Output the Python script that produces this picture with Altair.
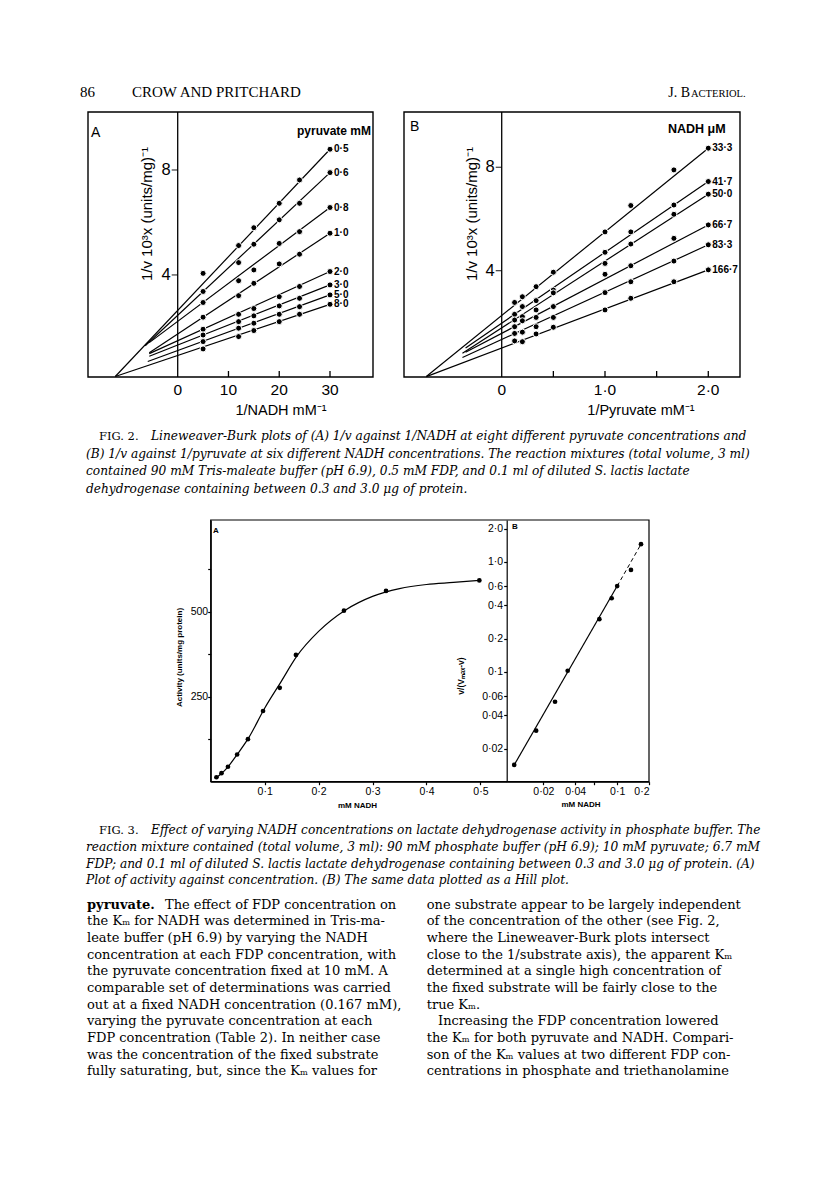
import altair as alt
import pandas as pd

W, H = 800, 1178

# ---------------- data: Fig. 2A (1/v vs 1/NADH) ----------------
A_x = [5, 12, 15, 20, 24, 30]
A_series = ["0·5", "0·6", "0·8", "1·0", "2·0", "3·0", "5·0", "8·0"]
A_y = [
    [4.06, 5.12, 5.80, 6.73, 7.62, 8.79],
    [3.37, 4.47, 5.17, 6.10, 6.73, 7.90],
    [2.95, 3.78, 4.19, 5.20, 5.65, 6.57],
    [2.39, 3.21, 3.68, 4.42, 4.79, 5.59],
    [1.93, 2.50, 2.72, 3.17, 3.56, 4.13],
    [1.71, 2.22, 2.44, 2.82, 3.11, 3.62],
    [1.46, 1.97, 2.16, 2.50, 2.79, 3.24],
    [1.18, 1.65, 1.88, 2.22, 2.50, 2.88],
]
A_line_x0 = [-12.3, -6.4, -5.6, -5.6, -5.6, -5.6, -5.9, -12.3]
A_line_y0 = [0.13, 1.30, 1.42, 1.03, 1.00, 0.90, 0.70, 0.13]
A_xticks = [10, 20, 30]
A_xlabels = [0, 10, 20, 30]

# ---------------- data: Fig. 2B (1/v vs 1/pyruvate) ----------------
B_x = [0.125, 0.2, 0.333, 0.5, 1.0, 1.25, 1.667, 2.0]
B_series = ["33·3", "41·7", "50·0", "66·7", "83·3", "166·7"]
B_y = [
    [2.77, 2.99, 3.38, 3.94, 5.50, 6.52, 7.90, 8.74],
    [2.31, 2.61, 2.84, 3.25, 4.71, 5.50, 6.54, 7.45],
    [2.09, 2.22, 2.48, 3.14, 4.28, 5.03, 6.18, 6.96],
    [1.83, 2.06, 2.19, 2.61, 3.86, 4.19, 5.25, 5.77],
    [1.57, 1.62, 1.83, 2.19, 3.15, 3.57, 4.37, 5.00],
    [1.28, 1.25, 1.55, 1.81, 2.48, 2.93, 3.57, 4.03],
]
B_line_x0 = [-0.73, -0.35, -0.38, -0.35, -0.38, -0.73]
B_line_y0 = [-0.10, 1.01, 0.80, 0.84, 0.64, -0.10]
B_xticks = [0.5, 1.0, 1.5, 2.0]
B_xlabels = [0, 1, 2]
LB_yticks = [4, 8]

# ---------------- data: Fig. 3A (activity vs NADH) ----------------
F3_nadh = [0.0106, 0.020, 0.032, 0.049, 0.069, 0.097, 0.128, 0.158, 0.247, 0.325, 0.498]
F3_act = [13, 25, 44, 80, 125, 208, 276, 373, 503, 561, 592]
F3_curve_x = [0.008, 0.02, 0.03, 0.05, 0.07, 0.10, 0.13, 0.16, 0.20, 0.25, 0.30, 0.35, 0.40, 0.45, 0.498]
F3_curve_y = [9, 24, 40, 82, 128, 216, 293, 370, 442, 505, 545, 568, 580, 586, 592]
F3_xticks = [0.1, 0.2, 0.3, 0.4, 0.5]
F3_yticks = [125, 250, 375, 500, 625]

# ---------------- data: Fig. 3B (Hill plot) ----------------
F3B_nadh = [0.0106, 0.0171, 0.0258, 0.034, 0.0678, 0.0887, 0.100, 0.135, 0.168]
F3B_ratio = [0.0142, 0.0291, 0.0533, 0.102, 0.30, 0.465, 0.60, 0.84, 1.44]
F3B_solid_x = [0.0106, 0.100]
F3B_solid_y = [0.0142, 0.60]
F3B_dash_x = [0.100, 0.168]
F3B_dash_y = [0.60, 1.44]
F3B_xticks = [0.02, 0.04, 0.06, 0.1, 0.2]
F3B_yticks = [0.02, 0.04, 0.06, 0.1, 0.2, 0.4, 0.6, 1, 2]

# ---------------- text ----------------
HEAD_NUM = "86"
HEAD_AUTH = "CROW AND PRITCHARD"
HEAD_J1 = "J. B"
HEAD_J2 = "ACTERIOL."
CAP2_HEAD = "FIG. 2."
CAP2_FIRST = "Lineweaver-Burk plots of (A) 1/v against 1/NADH at eight different pyruvate concentrations and"
CAP2_REST = [
    "(B) 1/v against 1/pyruvate at six different NADH concentrations. The reaction mixtures (total volume, 3 ml)",
    "contained 90 mM Tris-maleate buffer (pH 6.9), 0.5 mM FDP, and 0.1 ml of diluted S. lactis lactate",
    "dehydrogenase containing between 0.3 and 3.0 μg of protein.",
]
CAP3_HEAD = "FIG. 3."
CAP3_FIRST = "Effect of varying NADH concentrations on lactate dehydrogenase activity in phosphate buffer. The"
CAP3_REST = [
    "reaction mixture contained (total volume, 3 ml): 90 mM phosphate buffer (pH 6.9); 10 mM pyruvate; 6.7 mM",
    "FDP; and 0.1 ml of diluted S. lactis lactate dehydrogenase containing between 0.3 and 3.0 μg of protein. (A)",
    "Plot of activity against concentration. (B) The same data plotted as a Hill plot.",
]
BODY_L_BOLD = "pyruvate."
BODY_L_FIRST = "The effect of FDP concentration on"
BODY_L = [
    "the Kₘ for NADH was determined in Tris-ma-",
    "leate buffer (pH 6.9) by varying the NADH",
    "concentration at each FDP concentration, with",
    "the pyruvate concentration fixed at 10 mM. A",
    "comparable set of determinations was carried",
    "out at a fixed NADH concentration (0.167 mM),",
    "varying the pyruvate concentration at each",
    "FDP concentration (Table 2). In neither case",
    "was the concentration of the fixed substrate",
    "fully saturating, but, since the Kₘ values for",
]
BODY_R1 = [
    "one substrate appear to be largely independent",
    "of the concentration of the other (see Fig. 2,",
    "where the Lineweaver-Burk plots intersect",
    "close to the 1/substrate axis), the apparent Kₘ",
    "determined at a single high concentration of",
    "the fixed substrate will be fairly close to the",
    "true Kₘ.",
]
BODY_R2_INDENT = "Increasing the FDP concentration lowered"
BODY_R2 = [
    "the Kₘ for both pyruvate and NADH. Compari-",
    "son of the Kₘ values at two different FDP con-",
    "centrations in phosphate and triethanolamine",
]
A_YTITLE = "1/v  10³x (units/mg)⁻¹"
A_XTITLE = "1/NADH   mM⁻¹"
B_XTITLE = "1/Pyruvate   mM⁻¹"
A_LEG = "pyruvate mM"
B_LEG = "NADH μM"
F3_YTITLE_A = "Activity (units/mg protein)"
F3_YTITLE_B = "v/(Vₘₐₓ-v)"
F3_XTITLE = "mM NADH"

# small vertical nudges (px) of the end labels so crowded ones do not collide
A_LABEL_NUDGE = [0, 0, 0, 0, -1.5, -1.5, -0.5, 1.5]
B_LABEL_NUDGE = [0, -0.5, 0.5, 0, 0, 0]

SANS = "Liberation Sans"
SERIF = "DejaVu Serif"
CAPF = "DejaVu Serif"

one = pd.DataFrame({"k": [0]})
layers = []


def txt(s, x, y, size, font=SANS, weight="normal", style="normal", align="left",
        baseline="alphabetic", angle=None, lh=None):
    kw = dict(font=font, fontSize=size, fontWeight=weight, fontStyle=style,
              align=align, baseline=baseline, color="black")
    if angle is not None:
        kw["angle"] = angle
    if lh is not None:
        kw["lineHeight"] = lh
    return alt.Chart(one).mark_text(**kw).encode(
        x=alt.value(x), y=alt.value(y), text=alt.value(s))


def box(x0, x1, y0, y1, sw=1.4):
    return alt.Chart(one).mark_rect(filled=False, stroke="black", strokeWidth=sw).encode(
        x=alt.value(x0), x2=alt.value(x1), y=alt.value(y0), y2=alt.value(y1))


def X(field, sc):
    return alt.X(field, scale=sc, axis=None)


def Y(field, sc):
    return alt.Y(field, scale=sc, axis=None)


def lb_panel(xs, series, ys, lx0, ly0, nudges, xticks, xlabels, xlab_fmt, sx, sy, bottom_px, top_px):
    pts, lines, labs = [], [], []
    for s, yy, x0, y0, nd in zip(series, ys, lx0, ly0, nudges):
        for xv, yv in zip(xs, yy):
            pts.append({"s": s, "x": xv, "y": yv})
        lines.append({"s": s, "x": x0, "y": y0})
        lines.append({"s": s, "x": xs[-1], "y": yy[-1]})
        labs.append({"s": s, "x": xs[-1], "y": yy[-1], "nd": nd})
    out = []
    # y axis line at x = 0
    out.append(alt.Chart(one).mark_rule(color="black", strokeWidth=1.3).encode(
        x=X("d:Q", sx), y=alt.value(top_px), y2=alt.value(bottom_px)
    ).transform_calculate(d="0"))
    # y ticks + labels
    yt = pd.DataFrame({"v": LB_yticks, "lab": [str(v) for v in LB_yticks]})
    out.append(alt.Chart(yt).mark_tick(color="black", orient="horizontal", size=6, thickness=1.3,
                                       xOffset=-3).encode(
        x=X("z:Q", sx), y=Y("v:Q", sy)).transform_calculate(z="0"))
    out.append(alt.Chart(yt).mark_text(align="right", baseline="middle", dx=-7, font=SANS,
                                       fontSize=16.5, color="black").encode(
        x=X("z:Q", sx), y=Y("v:Q", sy), text="lab:N").transform_calculate(z="0"))
    # x ticks (inside) and labels (below frame)
    out.append(alt.Chart(pd.DataFrame({"t": xticks})).mark_rule(color="black", strokeWidth=1.3).encode(
        x=X("t:Q", sx), y=alt.value(bottom_px), y2=alt.value(bottom_px - 6)))
    xl = pd.DataFrame({"t": xlabels, "lab": xlab_fmt})
    out.append(alt.Chart(xl).mark_text(align="center", baseline="top", font=SANS, fontSize=15.5,
                                       color="black").encode(
        x=X("t:Q", sx), y=alt.value(bottom_px + 6), text="lab:N"))
    out.append(alt.Chart(pd.DataFrame(lines)).mark_line(color="black", strokeWidth=1.2).encode(
        x=X("x:Q", sx), y=Y("y:Q", sy), detail="s:N"))
    out.append(alt.Chart(pd.DataFrame(pts)).mark_point(
        filled=True, color="black", size=36, opacity=1, stroke="white", strokeWidth=1.0).encode(
        x=X("x:Q", sx), y=Y("y:Q", sy)))
    out.append(alt.Chart(pd.DataFrame(labs)).mark_text(
        align="left", baseline="middle", dx=4, font=SANS, fontSize=10, fontWeight="bold",
        color="black").encode(x=X("x:Q", sx), y=Y("y:Q", sy),
                              yOffset=alt.YOffset("nd:Q", scale=None), text="s:N"))
    return out


# ---- Fig 2A ----
sxA = alt.Scale(domain=[-17.67, 38.47], range=[80, 365], nice=False, zero=False)
syA = alt.Scale(domain=[0.11, 10.21], range=[369, 104], nice=False, zero=False)
layers += lb_panel(A_x, A_series, A_y, A_line_x0, A_line_y0, A_LABEL_NUDGE, A_xticks, A_xlabels,
                   ["0", "10", "20", "30"], sxA, syA, 369, 104)

# ---- Fig 2B ----
sxB = alt.Scale(domain=[-0.946, 2.307], range=[396, 732], nice=False, zero=False)
syB = alt.Scale(domain=[-0.116, 10.14], range=[369, 104], nice=False, zero=False)
layers += lb_panel(B_x, B_series, B_y, B_line_x0, B_line_y0, B_LABEL_NUDGE, B_xticks, B_xlabels,
                   ["0", "1·0", "2·0"], sxB, syB, 369, 104)

# ---- Fig 3A ----
sx3 = alt.Scale(domain=[0, 0.5487], range=[202.7, 498.7], nice=False, zero=False)
sy3 = alt.Scale(domain=[0, 769.7], range=[773.7, 512], nice=False, zero=False)
ax3 = dict(grid=False, domainColor="black", domainWidth=1.2, tickColor="black",
           tickSize=3, tickWidth=1.2, labelFont=SANS, labelFontSize=10.5,
           labelColor="black", title=None)
layers.append(alt.Chart(pd.DataFrame({"x": F3_curve_x, "y": F3_curve_y})).mark_line(
    color="black", strokeWidth=1.2, interpolate="monotone").encode(
    x=X("x:Q", sx3), y=Y("y:Q", sy3)))
layers.append(alt.Chart(pd.DataFrame({"x": F3_nadh, "y": F3_act})).mark_point(
    filled=True, color="black", size=22, opacity=1).encode(
    x=alt.X("x:Q", scale=sx3, axis=alt.Axis(
        orient="bottom", offset=773.7 - H, values=F3_xticks, labelPadding=2,
        labelExpr="replace(format(datum.value, '.1f'), '.', '·')", **ax3)),
    y=alt.Y("y:Q", scale=sy3, axis=alt.Axis(
        orient="left", offset=-202.7, values=F3_yticks, labelPadding=0,
        labelExpr="(datum.value == 250 || datum.value == 500) ? datum.label : ''", **ax3))))

# ---- Fig 3B ----
sx3b = alt.Scale(type="log", domain=[0.009, 0.2], range=[498.7, 641], nice=False)
sy3b = alt.Scale(type="log", domain=[0.01, 2.39], range=[773.7, 512], nice=False)
layers.append(alt.Chart(pd.DataFrame({"x": F3B_solid_x, "y": F3B_solid_y})).mark_line(
    color="black", strokeWidth=1.2).encode(x=X("x:Q", sx3b), y=Y("y:Q", sy3b)))
layers.append(alt.Chart(pd.DataFrame({"x": F3B_dash_x, "y": F3B_dash_y})).mark_line(
    color="black", strokeWidth=1.0, strokeDash=[4, 3]).encode(x=X("x:Q", sx3b), y=Y("y:Q", sy3b)))
layers.append(alt.Chart(pd.DataFrame({"x": F3B_nadh, "y": F3B_ratio})).mark_point(
    filled=True, color="black", size=22, opacity=1).encode(
    x=alt.X("x:Q", scale=sx3b, axis=alt.Axis(
        orient="bottom", offset=773.7 - H, values=F3B_xticks, labelPadding=2,
        labelExpr="datum.value == 0.06 ? '' : replace(format(datum.value, '~g'), '.', '·')", **ax3)),
    y=alt.Y("y:Q", scale=sy3b, axis=alt.Axis(
        orient="left", offset=-498.7, values=F3B_yticks, labelPadding=1,
        labelExpr="datum.value >= 1 ? replace(format(datum.value, '.1f'), '.', '·') : replace(format(datum.value, '~g'), '.', '·')",
        **ax3))))

layers += [
    # header
    txt(HEAD_NUM, 72, 89, 15, font="Liberation Serif"),
    txt(HEAD_AUTH, 124, 89, 15, font="Liberation Serif"),
    txt(HEAD_J1, 682, 89, 14, font="Liberation Serif", align="right"),
    txt(HEAD_J2, 683, 89, 10.5, font="Liberation Serif"),
    # fig 2 frames and labels
    box(80, 365, 104, 369),
    box(396, 732, 104, 369),
    txt("A", 83, 129, 14),
    txt("B", 402, 123, 14),
    txt(A_LEG, 363, 127, 12, weight="bold", align="right"),
    txt(B_LEG, 660, 125, 12.5, weight="bold"),
    txt(A_YTITLE, 138.7, 206, 15, align="center", baseline="middle", angle=270),
    txt(A_YTITLE, 463.7, 206, 15, align="center", baseline="middle", angle=270),
    txt(A_XTITLE, 273, 403, 14.5, align="center", baseline="middle"),
    txt(B_XTITLE, 633, 403, 14.5, align="center", baseline="middle"),
    # caption 2
    txt(CAP2_HEAD, 91, 432, 11.5, font=CAPF),
    txt(CAP2_FIRST, 143, 432, 12.2, font=CAPF, style="italic"),
    txt(CAP2_REST, 78, 449.5, 12.2, font=CAPF, style="italic", lh=17.5),
    # fig 3 frame & labels
    box(202.7, 641, 512, 773.7, sw=1.2),
    txt("A", 205, 525, 8, weight="bold"),
    txt("B", 504, 520.5, 8, weight="bold"),
    txt(F3_YTITLE_A, 172, 649.5, 8, weight="bold", align="center", baseline="middle", angle=270),
    txt(F3_YTITLE_B, 452.7, 668, 8.5, weight="bold", align="center", baseline="middle", angle=270),
    txt(F3_XTITLE, 349.5, 797.7, 8, weight="bold", align="center", baseline="middle"),
    txt(F3_XTITLE, 573, 797, 8, weight="bold", align="center", baseline="middle"),
    # caption 3
    txt(CAP3_HEAD, 91, 826, 11.5, font=CAPF),
    txt(CAP3_FIRST, 143, 826, 12.2, font=CAPF, style="italic"),
    txt(CAP3_REST, 78, 842.8, 12.2, font=CAPF, style="italic", lh=16.8),
    # body text
    txt(BODY_L_BOLD, 79, 900.5, 13, font=SERIF, weight="bold"),
    txt(BODY_L_FIRST, 157, 900.5, 13, font=SERIF),
    txt(BODY_L, 79, 917.2, 13, font=SERIF, lh=16.67),
    txt(BODY_R1, 418.7, 900.5, 13, font=SERIF, lh=16.67),
    txt(BODY_R2_INDENT, 430, 1017.2, 13, font=SERIF),
    txt(BODY_R2, 418.7, 1033.9, 13, font=SERIF, lh=16.67),
]

chart = alt.layer(*layers).resolve_scale(
    x="independent", y="independent"
).properties(
    width=W, height=H, padding=0, autosize=alt.AutoSizeParams(type="none")
).configure_view(stroke=None)

chart.save("out.html", embed_options={"renderer": "svg", "actions": False})
